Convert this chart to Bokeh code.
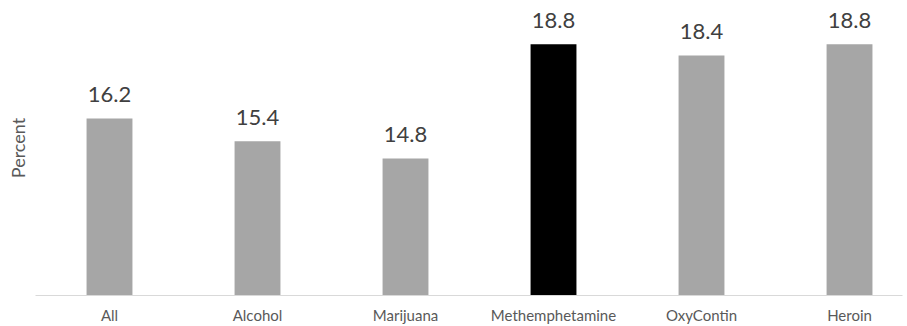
from bokeh.plotting import figure
from bokeh.models import ColumnDataSource, Range1d, FixedTicker
from bokeh.core.properties import value
from bokeh.embed import file_html
from bokeh.resources import INLINE

categories = ["All", "Alcohol", "Marijuana", "Methemphetamine", "OxyContin", "Heroin"]
percents = [16.2, 15.4, 14.8, 18.8, 18.4, 18.8]
bar_colors = ["#a6a6a6", "#a6a6a6", "#a6a6a6", "#000000", "#a6a6a6", "#a6a6a6"]
y_axis_title = "Percent"

xs = [i + 0.5 for i in range(len(categories))]
source = ColumnDataSource(dict(
    x=xs, top=percents, color=bar_colors,
    label=[f"{v:.1f}" for v in percents],
))

FONT = "Lato"

p = figure(width=907, height=326, output_backend="svg", toolbar_location=None,
           x_range=Range1d(0, 5.858), y_range=Range1d(10, 20.33),
           min_border_left=35, min_border_right=5, min_border_top=0, min_border_bottom=28)

p.vbar(x="x", top="top", bottom=10, width=0.31, fill_color="color", line_color=None, source=source)
p.text(x="x", y="top", text="label", source=source, text_align="center",
       text_baseline="alphabetic", y_offset=-24, text_font=value(FONT),
       text_font_size="22px", text_color="#404040")

p.xgrid.visible = False
p.ygrid.visible = False
p.outline_line_color = None
p.background_fill_color = "white"
p.border_fill_color = "white"

xa = p.xaxis[0]
xa.ticker = FixedTicker(ticks=xs)
xa.major_label_overrides = {x: c for x, c in zip(xs, categories)}
xa.axis_line_color = "#d9d9d9"
xa.axis_line_width = 1
xa.major_tick_line_color = None
xa.minor_tick_line_color = None
xa.major_tick_out = 0
xa.major_tick_in = 0
xa.major_label_standoff = 10
xa.major_label_text_font = FONT
xa.major_label_text_font_size = "15px"
xa.major_label_text_color = "#595959"

ya = p.yaxis[0]
ya.ticker = FixedTicker(ticks=[])
ya.axis_line_color = None
ya.major_tick_line_color = None
ya.minor_tick_line_color = None
ya.major_tick_out = 0
ya.major_tick_in = 0
ya.axis_label = y_axis_title
ya.axis_label_standoff = 7
ya.axis_label_text_font = FONT
ya.axis_label_text_font_style = "normal"
ya.axis_label_text_font_size = "18px"
ya.axis_label_text_color = "#595959"

open("out.html", "w").write(file_html(p, INLINE))
